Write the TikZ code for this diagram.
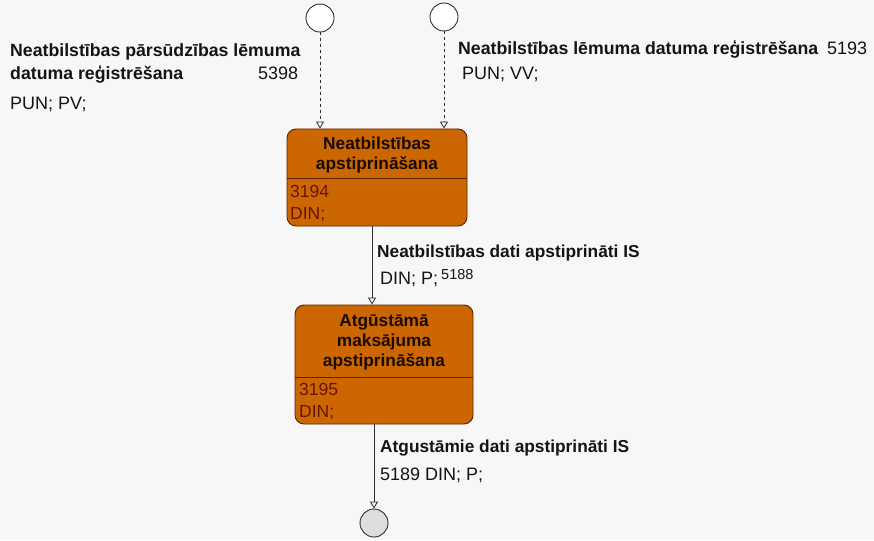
\documentclass[tikz,border=0pt]{standalone}
\usepackage{fontspec}
\setmainfont{Liberation Sans}
\usetikzlibrary{arrows.meta,positioning,calc}
\definecolor{bgcolor}{RGB}{247,247,247}
\definecolor{statefill}{RGB}{204,102,0}
\definecolor{stateline}{RGB}{90,35,0}
\definecolor{statetext}{RGB}{25,10,0}
\definecolor{infotext}{RGB}{105,20,0}
\definecolor{endfill}{RGB}{222,222,222}
\definecolor{linecolor}{RGB}{45,45,45}
\definecolor{labeltext}{RGB}{20,20,20}
\tikzset{
  statebox/.style={draw=stateline, fill=statefill, rounded corners=9pt, line width=0.9pt},
  titletext/.style={font=\fontsize{17.3}{20}\selectfont\bfseries, text=statetext, align=center, inner sep=0pt},
  infotxt/.style={font=\fontsize{17.5}{22}\selectfont, text=infotext, align=left, inner sep=0pt},
  pointnode/.style={circle, draw=linecolor, line width=0.9pt, minimum size=28pt, inner sep=0pt},
  flowln/.style={-{Triangle[open,length=7pt,width=8pt]}, line width=0.8pt, linecolor},
  entryln/.style={flowln, dash pattern=on 3pt off 3pt},
  boldlbl/.style={font=\fontsize{17.7}{21}\selectfont\bfseries, text=labeltext, inner sep=0pt, anchor=base west},
  plainlbl/.style={font=\fontsize{18}{21}\selectfont, text=labeltext, inner sep=0pt, anchor=base west},
}

\begin{document}
\begin{tikzpicture}[x=1pt, y=-1pt]
    \fill[bgcolor] (0,0) rectangle (874,540);
    \useasboundingbox (0,0) rectangle (874,540);
    % start and end points
    \node[pointnode, fill=white] (startA) at (320,18) {};
    \node[pointnode, fill=white] (startB) at (444,17) {};
    \node[pointnode, fill=endfill] (finish) at (374,523) {};
    % states
    \node[statebox, minimum width=180pt, minimum height=97pt] (confirm) at (377,177.5) {};
    \node[statebox, minimum width=178pt, minimum height=119pt] (recover) at (384,364.5) {};
    \draw[stateline, line width=0.9pt] (confirm.west |- 0,178) -- (confirm.east |- 0,178);
    \draw[stateline, line width=0.9pt] (recover.west |- 0,377) -- (recover.east |- 0,377);
    \node[titletext, anchor=north] (confirmT) at (377,137) {Neatbilstības\\apstiprināšana};
    \node[infotxt, anchor=north west] (confirmI) at (290,185) {3194\\DIN;};
    \node[titletext, anchor=north] (recoverT) at (384,314)
      {Atgūstāmā\\maksājuma\\apstiprināšana};
    \node[infotxt, anchor=north west] (recoverI) at (299,383) {3195\\DIN;};
    % transitions
    \coordinate (spine) at (372,0);
    \foreach \s in {startA,startB}
      \draw[entryln] (\s) -- (\s |- confirm.north);
    \draw[flowln] (confirm.south -| spine) -- (recover.north -| spine);
    \draw[flowln] (recover.south -| finish) -- (finish);
    % transition labels
    \node[boldlbl] (appealL1) at (10,57) {Neatbilstības pārsūdzības lēmuma};
    \node[boldlbl] (appealL2) at (10,80) {datuma reģistrēšana};
    \node[plainlbl] (appealNo) at (258,80) {5398};
    \node[plainlbl] (appealR) at (10,110) {PUN; PV;};
    \node[boldlbl] (decisionL) at (458,55) {Neatbilstības lēmuma datuma reģistrēšana};
    \node[plainlbl] (decisionNo) at (827,55) {5193};
    \node[plainlbl] (decisionR) at (462,80) {PUN; VV;};
    \node[boldlbl, font=\fontsize{17.3}{21}\selectfont\bfseries] (confirmedL) at (377,257)
      {Neatbilstības dati apstiprināti IS};
    \node[plainlbl] (confirmedR) at (380,284) {DIN; P;};
    \node[plainlbl, font=\fontsize{14.5}{16}\selectfont] (confirmedNo) at (441,279) {5188};
    \node[boldlbl, font=\fontsize{17.3}{21}\selectfont\bfseries] (recoveredL) at (380,452)
      {Atgustāmie dati apstiprināti IS};
    \node[plainlbl] (recoveredR) at (380,480) {5189 DIN; P;};
\end{tikzpicture}
\end{document}
